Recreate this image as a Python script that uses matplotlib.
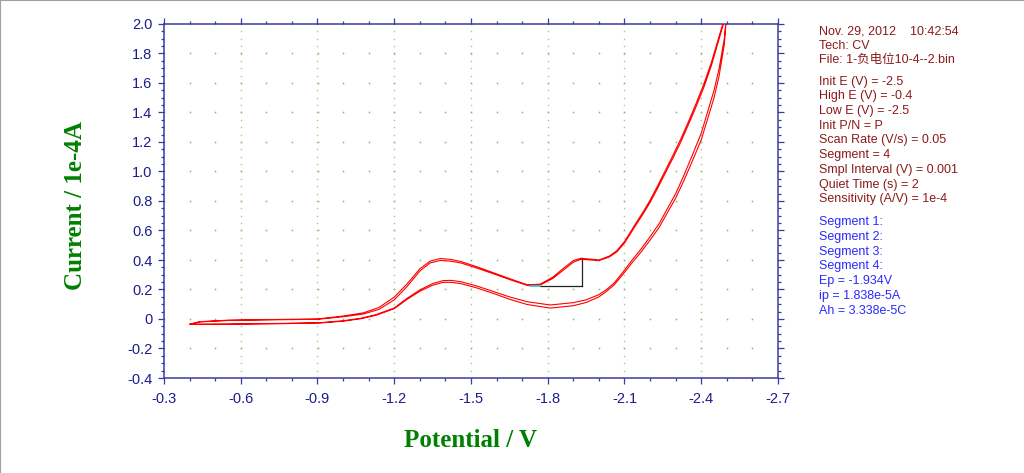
import matplotlib
matplotlib.use("Agg")
import matplotlib.pyplot as plt
from matplotlib.lines import Line2D
import numpy as np

# potential (V) and current (1e-4 A)
E_down = [-2.50, -2.49, -2.47, -2.45, -2.40, -2.365, -2.33, -2.30, -2.265, -2.235, -2.20,
          -2.165, -2.13, -2.095, -2.06, -2.03, -2.00, -1.95, -1.90, -1.81, -1.72, -1.65,
          -1.59, -1.52, -1.46, -1.42, -1.39, -1.35, -1.30, -1.25, -1.20, -1.13, -1.07,
          -1.00, -0.91, -0.75, -0.55, -0.40]
I_down_1 = [2.080, 1.900, 1.700, 1.550, 1.260, 1.110, 0.965, 0.850, 0.739, 0.645, 0.558,
            0.475, 0.400, 0.320, 0.245, 0.200, 0.165, 0.130, 0.111, 0.095, 0.117, 0.150,
            0.185, 0.225, 0.253, 0.262, 0.260, 0.240, 0.197, 0.140, 0.075, 0.030, 0.005,
            -0.012, -0.025, -0.030, -0.034, -0.036]
I_down_2 = [2.080, 1.860, 1.650, 1.500, 1.215, 1.070, 0.930, 0.820, 0.712, 0.620, 0.535,
            0.455, 0.382, 0.305, 0.232, 0.188, 0.150, 0.112, 0.090, 0.074, 0.098, 0.134,
            0.172, 0.212, 0.240, 0.249, 0.248, 0.229, 0.188, 0.133, 0.070, 0.026, 0.002,
            -0.015, -0.027, -0.032, -0.036, -0.036]

E_up = [-0.40, -0.44, -0.55, -0.70, -0.90, -1.00, -1.08, -1.14, -1.20, -1.25, -1.30,
        -1.34, -1.38, -1.42, -1.46, -1.52, -1.59, -1.66, -1.72, -1.77, -1.82, -1.86,
        -1.90, -1.93, -1.96, -2.00, -2.04, -2.07, -2.10, -2.14, -2.17, -2.20, -2.23,
        -2.26, -2.29, -2.32, -2.35, -2.38, -2.41, -2.44, -2.47, -2.49, -2.50]
I_up_1 = [-0.036, -0.020, -0.010, -0.006, -0.002, 0.015, 0.034, 0.065, 0.130, 0.220, 0.325,
          0.380, 0.397, 0.392, 0.380, 0.347, 0.305, 0.262, 0.228, 0.230, 0.275, 0.330,
          0.385, 0.405, 0.401, 0.396, 0.420, 0.455, 0.515, 0.625, 0.705, 0.790, 0.888,
          0.990, 1.093, 1.200, 1.318, 1.440, 1.570, 1.720, 1.900, 2.020, 2.080]
I_up_2 = [-0.036, -0.018, -0.008, -0.004, 0.000, 0.020, 0.042, 0.078, 0.148, 0.238, 0.340,
          0.392, 0.410, 0.404, 0.390, 0.356, 0.312, 0.268, 0.232, 0.236, 0.284, 0.342,
          0.396, 0.412, 0.407, 0.400, 0.426, 0.463, 0.525, 0.637, 0.718, 0.805, 0.905,
          1.008, 1.112, 1.220, 1.338, 1.462, 1.592, 1.742, 1.918, 2.032, 2.080]

# peak baseline marker
BASE_START = -1.731
BASE_E = -1.770
PEAK_E = -1.934
BASE_I = 0.224
PEAK_IP = 0.1838

x_ticks = [-0.3, -0.6, -0.9, -1.2, -1.5, -1.8, -2.1, -2.4, -2.7]
y_ticks = [-0.4, -0.2, 0, 0.2, 0.4, 0.6, 0.8, 1.0, 1.2, 1.4, 1.6, 1.8, 2.0]
y_labels = ["-0.4", "-0.2", "0", "0.2", "0.4", "0.6", "0.8", "1.0", "1.2", "1.4",
            "1.6", "1.8", "2.0"]

info_red = ["Nov. 29, 2012    10:42:54", "Tech: CV", "File: 1-负电位10-4--2.bin",
            None,
            "Init E (V) = -2.5", "High E (V) = -0.4", "Low E (V) = -2.5",
            "Init P/N = P", "Scan Rate (V/s) = 0.05", "Segment = 4",
            "Smpl Interval (V) = 0.001", "Quiet Time (s) = 2",
            "Sensitivity (A/V) = 1e-4"]
info_blue = ["Segment 1:", "Segment 2:", "Segment 3:", "Segment 4:",
             "Ep = -1.934V", "ip = 1.838e-5A", "Ah = 3.338e-5C"]

AXIS_COLOR = "#3a3aa0"
LABEL_COLOR = "#1c1c8c"
GRID_COLOR = "#a9c98a"
FONT_SANS = ["Liberation Sans", "Noto Sans CJK SC", "DejaVu Sans"]
FONT_SERIF = ["Liberation Serif", "DejaVu Serif"]

fig = plt.figure(figsize=(10.24, 4.73), dpi=100)
ax = fig.add_axes([164 / 1024, 1 - 378 / 473, 614 / 1024, 354 / 473])

# grid drawn as dots at the minor tick spacing
y_minor = np.arange(-0.4, 2.0001, 0.05)
x_minor = np.arange(-0.3, -2.7001, -0.1)
for xv in x_ticks[1:-1]:
    ax.plot([xv] * len(y_minor), y_minor, ls="none", marker="s", ms=1.0,
            mew=0, color=GRID_COLOR, zorder=1)
for yv in y_ticks[1:-1]:
    ax.plot(x_minor, [yv] * len(x_minor), ls="none", marker="s", ms=1.1,
            mew=0, color="#8fb860", zorder=1)

E_all = E_down + E_up + E_down + E_up
I_all = I_down_1 + I_up_1 + I_down_2 + I_up_2
ax.plot(E_all, I_all, color="#ff0000", lw=0.8, zorder=3)

ax.plot([BASE_E, PEAK_E], [BASE_I, BASE_I], color="#222222", lw=0.9, zorder=4)
ax.plot([PEAK_E, PEAK_E], [BASE_I, BASE_I + PEAK_IP], color="#222222", lw=0.9, zorder=4)
ax.plot([BASE_START, BASE_E], [BASE_I, BASE_I], color="#20c8d8", lw=1.2, zorder=4)

ax.set_xlim(-0.3, -2.7)
ax.set_ylim(-0.4, 2.0)
ax.set_xticks(x_ticks)
ax.set_xticklabels([f"{v:.1f}" for v in x_ticks])
ax.set_yticks(y_ticks)
ax.set_yticklabels(y_labels)
ax.set_xticks(x_minor, minor=True)
ax.set_yticks(y_minor, minor=True)

for sp in ax.spines.values():
    sp.set_color(AXIS_COLOR)
    sp.set_linewidth(1.1)
ax.tick_params(which="both", direction="out", color=AXIS_COLOR, width=0.9,
               top=True, right=True, labelcolor=LABEL_COLOR)
ax.tick_params(which="major", length=4)
ax.tick_params(which="minor", length=2.3)
ax.tick_params(axis="y", which="major", pad=4.3)
ax.tick_params(axis="x", which="major", pad=6)
for lab in ax.get_xticklabels() + ax.get_yticklabels():
    lab.set_family(FONT_SANS)
    lab.set_fontsize(10.5)

fig.text(471 / 1024, 1 - 440 / 473, "Potential / V", ha="center", va="center",
         family=FONT_SERIF, fontweight="bold", fontsize=18, color="#008000")
fig.text(76 / 1024, 1 - 206 / 473, "Current / 1e-4A", ha="center", va="center",
         rotation=90, family=FONT_SERIF, fontweight="bold", fontsize=18, color="#008000")

y = 31
for line in info_red:
    if line is None:
        y += 6.6
        continue
    fig.text(819 / 1024, 1 - y / 473, line, ha="left", va="center",
             family=FONT_SANS, fontsize=9, color="#8b1a1a")
    y += 14.7
y = 222.3
for line in info_blue:
    fig.text(819 / 1024, 1 - y / 473, line, ha="left", va="center",
             family=FONT_SANS, fontsize=9, color="#2a2aff")
    y += 14.7

# window frame edges at top and left
fig.add_artist(Line2D([0, 1], [1, 1], transform=fig.transFigure, color="#a0a0a0", lw=1.5))
fig.add_artist(Line2D([0, 0], [0, 1], transform=fig.transFigure, color="#a0a0a0", lw=1.5))

fig.savefig("out.png", dpi=100)
